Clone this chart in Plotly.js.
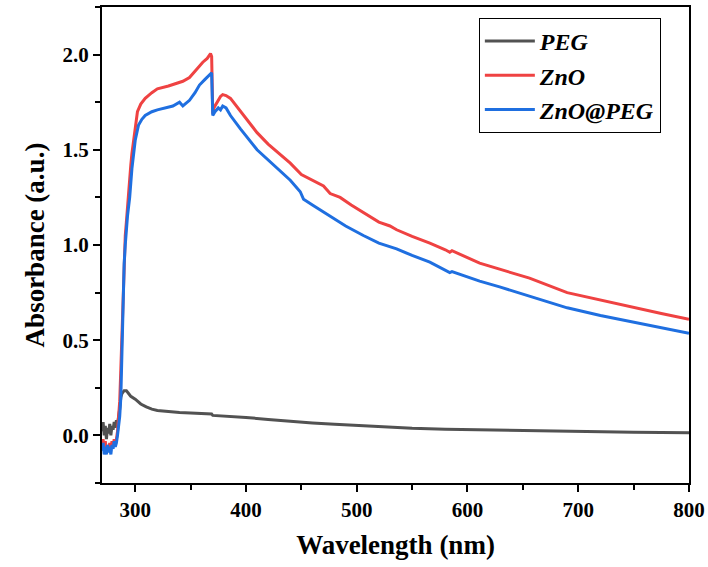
<!DOCTYPE html>
<html>
<head>
<meta charset="utf-8">
<script src="https://cdn.plot.ly/plotly-3.0.1.min.js"></script>
<style>html,body{margin:0;padding:0;background:#fff;}#chart{width:708px;height:567px;}</style>
</head>
<body>
<div id="chart"></div>
<script>
// PEG
const pegX = [270,271,272,273,274,275,276,277,278,279,280,281,282,283,284,285,286,287,288,290,292,294,296,300,305,310,315,320,330,340,350,360,369,370,380,400,420,440,450,460,480,500,520,550,580,600,650,700,750,800];
const pegY = [0.02,0.07,0.0,0.05,-0.02,0.04,0.01,0.06,0.0,0.05,0.03,0.07,0.04,0.08,0.06,0.09,0.14,0.2,0.22,0.235,0.235,0.22,0.205,0.19,0.165,0.15,0.138,0.131,0.124,0.12,0.117,0.114,0.112,0.105,0.102,0.094,0.084,0.073,0.068,0.065,0.058,0.051,0.044,0.037,0.032,0.03,0.025,0.021,0.017,0.014];
// ZnO
const znoX = [270,271,272,273,274,275,276,277,278,279,280,281,282,283,284,285,286,287,288,289,290,291,292,293,294,295,296,297,298,300,302,305,309,315,320,330,338,343,349,355,361,365,368,369,370,371,373,375,377,379,382,386,390,400,410,420,430,440,450,460,470,476,485,495,506,520,530,536,550,566,580,584,586,600,611,629,656,690,720,750,775,800];
const znoY = [-0.06,-0.02,-0.08,-0.03,-0.09,-0.05,-0.08,-0.04,-0.07,-0.03,-0.06,-0.02,-0.04,-0.02,0.02,0.08,0.18,0.35,0.55,0.78,0.95,1.05,1.12,1.2,1.3,1.35,1.42,1.48,1.53,1.62,1.7,1.74,1.77,1.8,1.82,1.835,1.85,1.86,1.88,1.92,1.96,1.98,2.005,1.99,1.69,1.72,1.74,1.76,1.78,1.79,1.785,1.77,1.74,1.67,1.59,1.53,1.48,1.43,1.37,1.34,1.31,1.27,1.25,1.21,1.17,1.12,1.10,1.08,1.045,1.01,0.975,0.962,0.97,0.935,0.905,0.873,0.826,0.75,0.71,0.67,0.64,0.61];
// ZnO@PEG
const zpX = [270,271,272,273,274,275,276,277,278,279,280,281,282,283,284,285,286,287,288,289,290,291,292,293,295,297,300,303,306,309,315,320,334,340,343,346,349,354,358,363,369,370,372,375,377,379,382,386,395,410,425,440,449,452,460,476,490,506,520,536,550,566,580,584,586,611,629,656,690,720,750,775,800];
const zpY = [-0.08,-0.04,-0.1,-0.06,-0.1,-0.05,-0.09,-0.06,-0.1,-0.05,-0.07,-0.03,-0.06,-0.04,0.0,0.04,0.1,0.2,0.45,0.7,0.9,1.0,1.08,1.15,1.25,1.4,1.55,1.63,1.66,1.68,1.70,1.71,1.73,1.75,1.73,1.745,1.76,1.80,1.84,1.87,1.905,1.68,1.70,1.72,1.71,1.73,1.72,1.68,1.61,1.50,1.42,1.34,1.28,1.24,1.21,1.15,1.10,1.05,1.01,0.98,0.945,0.91,0.87,0.855,0.86,0.81,0.78,0.73,0.67,0.63,0.595,0.565,0.537];

const seriesNames = ['PEG','ZnO','ZnO@PEG'];
const seriesColors = ['#525252','#ef4242','#1f6fe0'];

const font = 'Liberation Serif, Times New Roman, serif';
const traces = [
  {x: pegX, y: pegY, name: seriesNames[0], type: 'scatter', mode: 'lines', line: {color: seriesColors[0], width: 3}},
  {x: znoX, y: znoY, name: seriesNames[1], type: 'scatter', mode: 'lines', line: {color: seriesColors[1], width: 3}},
  {x: zpX, y: zpY, name: seriesNames[2], type: 'scatter', mode: 'lines', line: {color: seriesColors[2], width: 3}}
];

const axisCommon = {
  showgrid: false, zeroline: false,
  showline: true, linecolor: '#000', linewidth: 2, mirror: true,
  ticks: 'outside', ticklen: 7, tickwidth: 2, tickcolor: '#000',
  tickfont: {family: font, size: 21, color: '#000', weight: 'bold'}
};

const layout = {
  width: 708, height: 567,
  margin: {l: 102, r: 19, t: 7, b: 84},
  paper_bgcolor: '#fff', plot_bgcolor: '#fff',
  showlegend: true,
  legend: {
    x: 0.642, y: 0.977, xanchor: 'left', yanchor: 'top',
    bordercolor: '#000', borderwidth: 1, bgcolor: '#fff',
    font: {family: font, size: 24, color: '#000', weight: 'bold', style: 'italic'},
    itemwidth: 50, tracegroupgap: 0
  },
  xaxis: Object.assign({}, axisCommon, {
    range: [270, 800], tick0: 300, dtick: 100,
    minor: {dtick: 50, tick0: 300, ticklen: 5, tickwidth: 2, tickcolor: '#000', ticks: 'outside'},
    title: {text: 'Wavelength (nm)', font: {family: font, size: 27, color: '#000', weight: 'bold'}, standoff: 14}
  }),
  yaxis: Object.assign({}, axisCommon, {
    range: [-0.25, 2.25], tick0: 0, dtick: 0.5, tickformat: '.1f',
    minor: {dtick: 0.25, tick0: 0, ticklen: 5, tickwidth: 2, tickcolor: '#000', ticks: 'outside'},
    title: {text: 'Absorbance (a.u.)', font: {family: font, size: 27, color: '#000', weight: 'bold'}, standoff: 10}
  })
};

Plotly.newPlot('chart', traces, layout, {staticPlot: true, displayModeBar: false});
</script>
</body>
</html>
